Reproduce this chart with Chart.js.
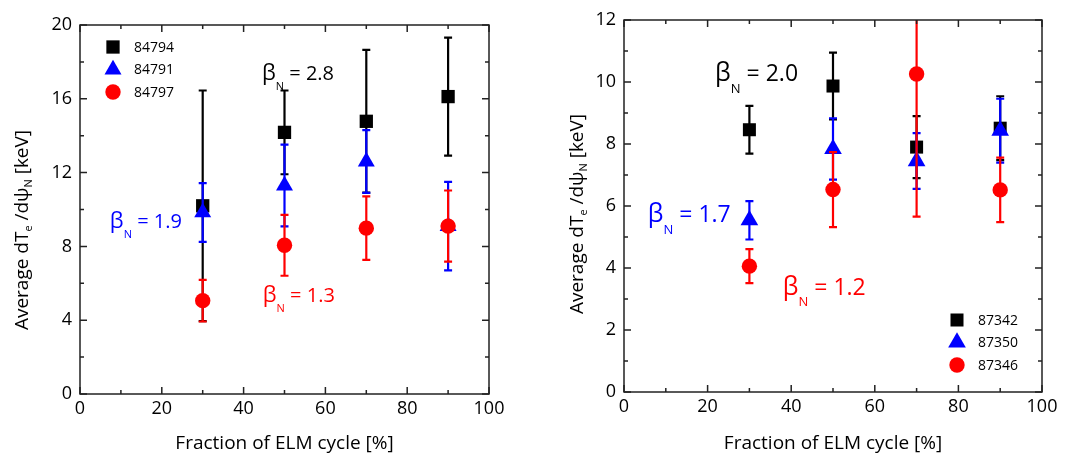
<!DOCTYPE html>
<html>
<head>
<meta charset="utf-8">
<script src="https://cdn.jsdelivr.net/npm/chart.js@4.4.1/dist/chart.umd.min.js"></script>
<style>
  body { margin: 0; background: #fff; }
  #wrap { position: relative; width: 1074px; height: 455px; overflow: hidden; }
  #left { position: absolute; left: 0; top: 0; }
  #right { position: absolute; left: 540px; top: 0; }
</style>
</head>
<body>
<div id="wrap">
  <canvas id="left" width="540" height="455"></canvas>
  <canvas id="right" width="534" height="455"></canvas>
</div>
<script>
// --- data ---
const fractions = [30, 50, 70, 90];
const xTicks = [0, 20, 40, 60, 80, 100];
const xMinorTicks = [10, 30, 50, 70, 90];
const yTicksLeft = [0, 4, 8, 12, 16, 20];
const yMinorLeft = [2, 6, 10, 14, 18];
const yTicksRight = [0, 2, 4, 6, 8, 10, 12];
const yMinorRight = [1, 3, 5, 7, 9, 11];

// left panel
const mean84794 = [10.2, 14.18, 14.78, 16.12];
const err84794 = [6.25, 2.27, 3.87, 3.2];
const mean84791 = [9.84, 11.3, 12.6, 9.1];
const err84791 = [1.59, 2.22, 1.7, 2.4];
const mean84797 = [5.06, 8.06, 8.99, 9.1];
const err84797 = [1.13, 1.65, 1.72, 1.93];

// right panel
const mean87342 = [8.46, 9.87, 7.9, 8.51];
const err87342 = [0.77, 1.08, 1.0, 1.03];
const mean87350 = [5.54, 7.84, 7.45, 8.43];
const err87350 = [0.62, 0.99, 0.9, 1.03];
const mean87346 = [4.06, 6.53, 10.26, 6.52];
const err87346 = [0.55, 1.21, 4.6, 1.04];

const FONT = "'Open Sans', 'Noto Sans', sans-serif";
const BLACK = '#000000', BLUE = '#0000ff', RED = '#ff0000';

function series(label, mean, err, color, style, radius, order) {
  return {
    label: label,
    data: fractions.map((f, i) => ({ x: f, y: mean[i] })),
    errors: err,
    backgroundColor: color,
    borderColor: color,
    pointStyle: style,
    pointRadius: radius,
    pointBorderWidth: 0,
    showLine: false,
    order: order
  };
}

// error bars drawn just before each dataset's markers
const errorBars = {
  id: 'errorBars',
  beforeDatasetDraw(chart, args) {
    const ds = chart.data.datasets[args.index];
    if (!ds.errors) return;
    const { ctx, chartArea: a, scales: { x, y } } = chart;
    ctx.save();
    ctx.beginPath();
    ctx.rect(a.left, a.top, a.right - a.left, a.bottom - a.top);
    ctx.clip();
    ctx.strokeStyle = ds.borderColor;
    ctx.lineWidth = 2.2;
    ds.data.forEach((p, i) => {
      const px = x.getPixelForValue(p.x);
      const lo = y.getPixelForValue(p.y - ds.errors[i]);
      const hi = y.getPixelForValue(p.y + ds.errors[i]);
      ctx.beginPath();
      ctx.moveTo(px, lo); ctx.lineTo(px, hi);
      ctx.moveTo(px - 4, lo); ctx.lineTo(px + 4, lo);
      ctx.moveTo(px - 4, hi); ctx.lineTo(px + 4, hi);
      ctx.stroke();
    });
    ctx.restore();
  }
};

// box frame + inward ticks on all four sides
const frameTicks = {
  id: 'frameTicks',
  afterDatasetsDraw(chart, args, opts) {
    const { ctx, chartArea: a, scales: { x, y } } = chart;
    ctx.save();
    ctx.strokeStyle = '#222';
    ctx.lineWidth = 1.5;
    ctx.strokeRect(a.left, a.top, a.right - a.left, a.bottom - a.top);
    ctx.beginPath();
    const tickX = (vals, len) => vals.forEach(v => {
      const px = x.getPixelForValue(v);
      ctx.moveTo(px, a.bottom); ctx.lineTo(px, a.bottom - len);
      ctx.moveTo(px, a.top); ctx.lineTo(px, a.top + len);
    });
    const tickY = (vals, len) => vals.forEach(v => {
      const py = y.getPixelForValue(v);
      ctx.moveTo(a.left, py); ctx.lineTo(a.left + len, py);
      ctx.moveTo(a.right, py); ctx.lineTo(a.right - len, py);
    });
    tickX(xTicks, 7); tickX(xMinorTicks, 4);
    tickY(opts.major, 7); tickY(opts.minor, 4);
    ctx.stroke();
    ctx.restore();
  }
};

// β_N labels, rotated y title, and in-plot legend
function drawSubText(ctx, parts, x, y) {
  let cx = x;
  parts.forEach(([txt, size, dy]) => {
    ctx.font = size + 'px ' + FONT;
    ctx.fillText(txt, cx, y + dy);
    cx += ctx.measureText(txt).width;
  });
  return cx - x;
}
function measureParts(ctx, parts) {
  return parts.reduce((w, [txt, size]) => {
    ctx.font = size + 'px ' + FONT;
    return w + ctx.measureText(txt).width;
  }, 0);
}

const textLayer = {
  id: 'textLayer',
  afterDraw(chart, args, opts) {
    const { ctx, chartArea: a, scales: { x, y } } = chart;
    ctx.save();
    ctx.textBaseline = 'alphabetic';
    ctx.textAlign = 'left';

    // beta labels
    opts.betas.forEach(b => {
      ctx.fillStyle = b.color;
      const s = opts.betaSize;
      drawSubText(ctx, [['\u03b2', s + 2, 0], ['N', Math.round(s * 0.55), s * 0.5], [' = ' + b.value, s, 0]],
        x.getPixelForValue(b.x), y.getPixelForValue(b.y));
    });

    // y title
    const t = opts.yTitle;
    const parts = [['Average dT', 19, 0], ['e', 11, 6], [' /d\u03c8', 19, 0], ['N', 11, 6], [' [keV]', 19, 0]];
    ctx.save();
    ctx.fillStyle = '#000';
    ctx.translate(t.x, t.y);
    ctx.rotate(-Math.PI / 2);
    ctx.textBaseline = 'middle';
    const w = measureParts(ctx, parts);
    drawSubText(ctx, parts, -w / 2, 0);
    ctx.restore();

    // legend
    const lg = opts.legend;
    const x0 = lg.fromRight ? a.right - lg.dx : a.left + lg.dx;
    const y0 = lg.fromBottom ? a.bottom - lg.dy : a.top + lg.dy;
    ctx.textBaseline = 'middle';
    ctx.font = '14px ' + FONT;
    chart.data.datasets.forEach((ds, i) => {
      const yy = y0 + i * 22.5;
      ctx.fillStyle = ds.backgroundColor;
      ctx.strokeStyle = ds.borderColor;
      Chart.helpers.drawPoint(ctx, { pointStyle: ds.pointStyle, radius: ds.pointRadius, rotation: 0, borderWidth: 0 }, x0, yy);
      ctx.fillStyle = '#000';
      ctx.fillText(ds.label, x0 + 21, yy + 1);
    });
    ctx.restore();
  }
};

function makePanel(id, datasets, yMax, yTicks, yMinor, pad, axisW, axisH, extras) {
  return new Chart(document.getElementById(id), {
    type: 'scatter',
    data: { datasets: datasets },
    options: {
      responsive: false,
      animation: false,
      events: [],
      layout: { padding: pad },
      plugins: {
        legend: { display: false },
        tooltip: { enabled: false },
        frameTicks: { major: yTicks, minor: yMinor },
        textLayer: extras
      },
      scales: {
        x: {
          type: 'linear', min: 0, max: 100,
          afterBuildTicks: s => { s.ticks = xTicks.map(v => ({ value: v })); },
          afterFit: s => { s.height = axisH; },
          grid: { display: false, drawTicks: false },
          border: { display: false },
          ticks: { font: { family: FONT, size: 18 }, color: '#000', padding: 4 },
          title: { display: true, text: 'Fraction of ELM cycle [%]', font: { family: FONT, size: 19 }, color: '#000', padding: { top: 0, bottom: 0 } }
        },
        y: {
          type: 'linear', min: 0, max: yMax,
          afterBuildTicks: s => { s.ticks = yTicks.map(v => ({ value: v })); },
          afterFit: s => { s.width = axisW; },
          grid: { display: false, drawTicks: false },
          border: { display: false },
          ticks: { font: { family: FONT, size: 18 }, color: '#000', padding: 8 }
        }
      }
    },
    plugins: [errorBars, frameTicks, textLayer]
  });
}

makePanel('left', [
  series('84794', mean84794, err84794, BLACK, 'rect', 9.4, 3),
  series('84791', mean84791, err84791, BLUE, 'triangle', 9.8, 2),
  series('84797', mean84797, err84797, RED, 'circle', 7.7, 1)
], 20, yTicksLeft, yMinorLeft, { top: 25, right: 51, left: 0, bottom: 0 }, 80, 61, {
  betaSize: 20,
  betas: [
    { x: 44.5, y: 17.0, value: '2.8', color: BLACK },
    { x: 7.3, y: 9.0, value: '1.9', color: BLUE },
    { x: 44.7, y: 5.0, value: '1.3', color: RED }
  ],
  yTitle: { x: 23, y: 230 },
  legend: { dx: 33, dy: 22 }
});

makePanel('right', [
  series('87342', mean87342, err87342, BLACK, 'rect', 9.2, 3),
  series('87350', mean87350, err87350, BLUE, 'triangle', 10.2, 2),
  series('87346', mean87346, err87346, RED, 'circle', 7.7, 1)
], 12, yTicksRight, yMinorRight, { top: 20, right: 32, left: 0, bottom: 0 }, 84, 63, {
  betaSize: 23,
  betas: [
    { x: 21.8, y: 10.03, value: '2.0', color: BLACK },
    { x: 5.7, y: 5.48, value: '1.7', color: BLUE },
    { x: 38.0, y: 3.13, value: '1.2', color: RED }
  ],
  yTitle: { x: 38, y: 214 },
  legend: { dx: 85, dy: 72, fromRight: true, fromBottom: true }
});
</script>
</body>
</html>
